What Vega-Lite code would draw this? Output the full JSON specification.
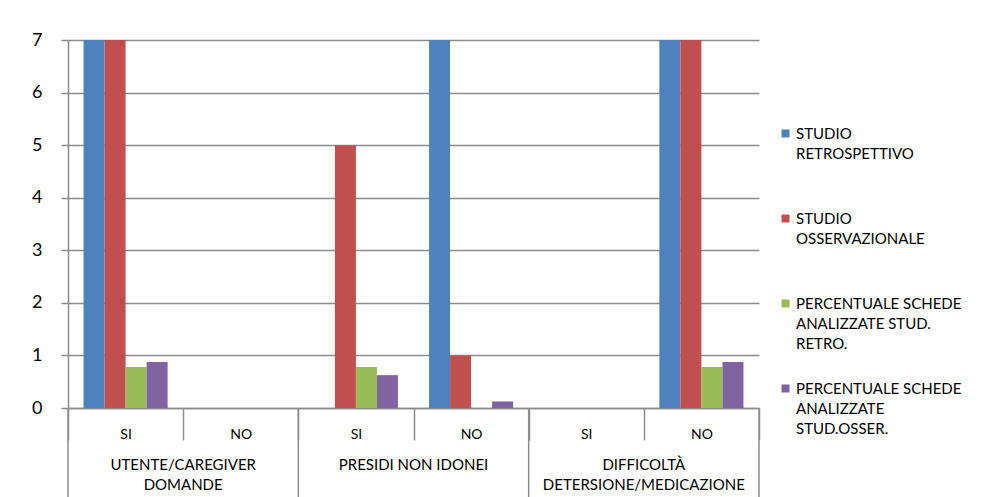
{
  "$schema": "https://vega.github.io/schema/vega-lite/v6.json",
  "width": 691,
  "height": 368,
  "autosize": "none",
  "padding": {"left": 68, "top": 40, "right": 227, "bottom": 89},
  "background": "white",
  "config": {"font": "Lato", "view": {"stroke": null}},
  "layer": [
    {
      "data": {
        "values": [
          {"cat": "U|SI", "series": "STUDIO RETROSPETTIVO", "value": 7},
          {"cat": "U|SI", "series": "STUDIO OSSERVAZIONALE", "value": 7},
          {"cat": "U|SI", "series": "PERCENTUALE SCHEDE ANALIZZATE STUD. RETRO.", "value": 0.78},
          {"cat": "U|SI", "series": "PERCENTUALE SCHEDE ANALIZZATE STUD.OSSER.", "value": 0.875},
          {"cat": "U|NO", "series": "STUDIO RETROSPETTIVO", "value": 0},
          {"cat": "U|NO", "series": "STUDIO OSSERVAZIONALE", "value": 0},
          {"cat": "U|NO", "series": "PERCENTUALE SCHEDE ANALIZZATE STUD. RETRO.", "value": 0},
          {"cat": "U|NO", "series": "PERCENTUALE SCHEDE ANALIZZATE STUD.OSSER.", "value": 0},
          {"cat": "P|SI", "series": "STUDIO RETROSPETTIVO", "value": 0},
          {"cat": "P|SI", "series": "STUDIO OSSERVAZIONALE", "value": 5},
          {"cat": "P|SI", "series": "PERCENTUALE SCHEDE ANALIZZATE STUD. RETRO.", "value": 0.78},
          {"cat": "P|SI", "series": "PERCENTUALE SCHEDE ANALIZZATE STUD.OSSER.", "value": 0.625},
          {"cat": "P|NO", "series": "STUDIO RETROSPETTIVO", "value": 7},
          {"cat": "P|NO", "series": "STUDIO OSSERVAZIONALE", "value": 1},
          {"cat": "P|NO", "series": "PERCENTUALE SCHEDE ANALIZZATE STUD. RETRO.", "value": 0},
          {"cat": "P|NO", "series": "PERCENTUALE SCHEDE ANALIZZATE STUD.OSSER.", "value": 0.125},
          {"cat": "D|SI", "series": "STUDIO RETROSPETTIVO", "value": 0},
          {"cat": "D|SI", "series": "STUDIO OSSERVAZIONALE", "value": 0},
          {"cat": "D|SI", "series": "PERCENTUALE SCHEDE ANALIZZATE STUD. RETRO.", "value": 0},
          {"cat": "D|SI", "series": "PERCENTUALE SCHEDE ANALIZZATE STUD.OSSER.", "value": 0},
          {"cat": "D|NO", "series": "STUDIO RETROSPETTIVO", "value": 7},
          {"cat": "D|NO", "series": "STUDIO OSSERVAZIONALE", "value": 7},
          {"cat": "D|NO", "series": "PERCENTUALE SCHEDE ANALIZZATE STUD. RETRO.", "value": 0.78},
          {"cat": "D|NO", "series": "PERCENTUALE SCHEDE ANALIZZATE STUD.OSSER.", "value": 0.875}
        ]
      },
      "mark": {"type": "bar"},
      "encoding": {
        "x": {
          "field": "cat",
          "type": "nominal",
          "sort": ["U|SI", "U|NO", "P|SI", "P|NO", "D|SI", "D|NO"],
          "scale": {"paddingInner": 0, "paddingOuter": 0},
          "axis": {
            "orient": "bottom",
            "title": null,
            "labelAngle": 0,
            "labelExpr": "split(datum.value, '|')[1]",
            "labelFontSize": 14,
            "labelColor": "#000000",
            "labelPadding": -13,
            "labelBaseline": "top",
            "labelOverlap": false,
            "domainColor": "#8c8c8c",
            "domainWidth": 1.5,
            "tickBand": "extent",
            "tickSize": 32,
            "tickColor": "#8c8c8c",
            "tickWidth": 1.5
          }
        },
        "xOffset": {
          "field": "series",
          "sort": ["STUDIO RETROSPETTIVO", "STUDIO OSSERVAZIONALE", "PERCENTUALE SCHEDE ANALIZZATE STUD. RETRO.", "PERCENTUALE SCHEDE ANALIZZATE STUD.OSSER."],
          "scale": {"paddingInner": 0, "paddingOuter": 0.74}
        },
        "y": {
          "field": "value",
          "type": "quantitative",
          "scale": {"domain": [0, 7], "nice": false},
          "axis": {
            "title": null,
            "values": [0, 1, 2, 3, 4, 5, 6, 7],
            "format": "d",
            "grid": true,
            "gridColor": "#8c8c8c",
            "gridWidth": 1.5,
            "domainColor": "#8c8c8c",
            "domainWidth": 1.5,
            "tickColor": "#8c8c8c",
            "tickWidth": 1.5,
            "tickSize": 7,
            "labelPadding": 19,
            "labelFontSize": 18,
            "labelColor": "#000000"
          }
        },
        "color": {
          "field": "series",
          "type": "nominal",
          "sort": ["STUDIO RETROSPETTIVO", "STUDIO OSSERVAZIONALE", "PERCENTUALE SCHEDE ANALIZZATE STUD. RETRO.", "PERCENTUALE SCHEDE ANALIZZATE STUD.OSSER."],
          "scale": {"range": ["#4F81BD", "#C0504D", "#9BBB59", "#8064A2"]},
          "legend": {
            "title": null,
            "orient": "none",
            "legendX": 710,
            "legendY": 86,
            "symbolType": "square",
            "symbolSize": 64,
            "symbolStrokeWidth": 0,
            "labelFontSize": 15,
            "labelColor": "#000000",
            "labelLimit": 300,
            "labelOffset": 3,
            "labelBaseline": "alphabetic",
            "rowPadding": 29,
            "labelExpr": "datum.label == 'STUDIO RETROSPETTIVO' ? ['STUDIO', 'RETROSPETTIVO', ''] : datum.label == 'STUDIO OSSERVAZIONALE' ? ['STUDIO', 'OSSERVAZIONALE', ''] : datum.label == 'PERCENTUALE SCHEDE ANALIZZATE STUD. RETRO.' ? ['PERCENTUALE SCHEDE', 'ANALIZZATE STUD.', 'RETRO.'] : ['PERCENTUALE SCHEDE', 'ANALIZZATE', 'STUD.OSSER.']",
            "encode": {"labels": {"update": {"lineHeight": {"value": 20}, "dy": {"value": 5}}}}
          }
        }
      }
    },
    {
      "data": {"values": [{"cat": "U|SI"}, {"cat": "P|SI"}, {"cat": "D|SI"}]},
      "mark": {"type": "rule", "color": "#8c8c8c", "strokeWidth": 1.5},
      "encoding": {
        "x": {"field": "cat", "type": "nominal", "sort": ["U|SI", "U|NO", "P|SI", "P|NO", "D|SI", "D|NO"], "bandPosition": 0},
        "y": {"datum": 0},
        "y2": {"datum": -1.7}
      }
    },
    {
      "data": {"values": [{"cat": "D|NO"}]},
      "mark": {"type": "rule", "color": "#8c8c8c", "strokeWidth": 1.5},
      "encoding": {
        "x": {"field": "cat", "type": "nominal", "sort": ["U|SI", "U|NO", "P|SI", "P|NO", "D|SI", "D|NO"], "bandPosition": 1},
        "y": {"datum": 0},
        "y2": {"datum": -1.7}
      }
    },
    {
      "data": {
        "values": [
          {"cat": "U|SI", "label": "UTENTE/CAREGIVER\nDOMANDE"},
          {"cat": "P|SI", "label": "PRESIDI NON IDONEI"},
          {"cat": "D|SI", "label": "DIFFICOLTÀ\nDETERSIONE/MEDICAZIONE"}
        ]
      },
      "mark": {"type": "text", "baseline": "top", "align": "center", "lineBreak": "\n", "lineHeight": 20, "fontSize": 15, "dy": 50, "color": "#000000"},
      "encoding": {
        "x": {"field": "cat", "type": "nominal", "sort": ["U|SI", "U|NO", "P|SI", "P|NO", "D|SI", "D|NO"], "bandPosition": 1},
        "y": {"datum": 0},
        "text": {"field": "label"}
      }
    }
  ]
}
